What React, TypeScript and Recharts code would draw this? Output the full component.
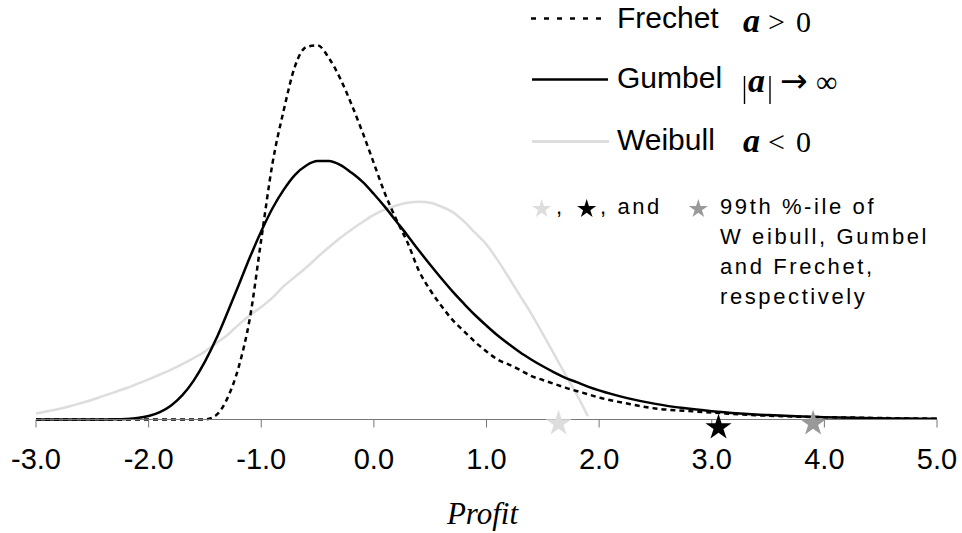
import { ComposedChart, Line, Scatter, XAxis, YAxis } from "recharts";

// profit grid (x) shared by the three densities
const profitGrid = [
  -3.0, -2.9, -2.8, -2.7, -2.6, -2.5, -2.4, -2.3, -2.2, -2.1,
  -2.0, -1.9, -1.8, -1.7, -1.6, -1.5, -1.4, -1.3, -1.2, -1.1,
  -1.0, -0.9, -0.8, -0.7, -0.6, -0.5, -0.4, -0.3, -0.2, -0.1,
  0.0, 0.1, 0.2, 0.3, 0.4, 0.5, 0.6, 0.7, 0.8, 0.9,
  1.0, 1.1, 1.2, 1.3, 1.4, 1.5, 1.6, 1.7, 1.8, 1.9,
  2.0, 2.25, 2.5, 2.75, 3.0, 3.25, 3.5, 3.75, 4.0, 4.25, 4.5, 4.75, 5.0,
];

const frechet = [
  0, 0, 0, 0, 0, 0, 0, 0, 0, 0,
  0, 0, 0, 0, 0, 0, 0.008, 0.039, 0.096, 0.186,
  0.328, 0.467, 0.564, 0.644, 0.679, 0.682, 0.659, 0.622, 0.575, 0.523,
  0.467, 0.411, 0.364, 0.322, 0.271, 0.236, 0.207, 0.181, 0.161, 0.141,
  0.124, 0.109, 0.1, 0.09, 0.079, 0.072, 0.065, 0.058, 0.052, 0.046,
  0.04, 0.029, 0.02, 0.016, 0.0127, 0.0093, 0.0069, 0.0053, 0.0042, 0.0035, 0.0027, 0.002, 0.0015,
];

const gumbel = [
  0, 0, 0, 0, 0, 0, 0.0001, 0.0003, 0.001, 0.0026,
  0.0063, 0.0134, 0.0256, 0.0443, 0.0709, 0.1054, 0.147, 0.195, 0.245, 0.296,
  0.343, 0.385, 0.419, 0.446, 0.463, 0.471, 0.471, 0.464, 0.45, 0.433,
  0.411, 0.387, 0.361, 0.335, 0.308, 0.282, 0.257, 0.233, 0.211, 0.19,
  0.171, 0.153, 0.137, 0.122, 0.109, 0.097, 0.086, 0.076, 0.068, 0.06,
  0.053, 0.039, 0.0285, 0.0208, 0.0152, 0.0111, 0.008, 0.0058, 0.0042, 0.0031, 0.0022, 0.0016, 0.0012,
];

const weibull = [
  0.011, 0.015, 0.019, 0.024, 0.03, 0.036, 0.043, 0.05, 0.057, 0.065,
  0.073, 0.082, 0.091, 0.101, 0.112, 0.124, 0.139, 0.154, 0.173, 0.19,
  0.205, 0.222, 0.243, 0.26, 0.277, 0.296, 0.314, 0.331, 0.346, 0.36,
  0.373, 0.383, 0.39, 0.395, 0.397, 0.395, 0.388, 0.378, 0.361, 0.34,
  0.319, 0.29, 0.258, 0.225, 0.192, 0.156, 0.119, 0.082, 0.046, 0.006,
  null, null, null, null, null, null, null, null, null, null, null, null, null,
];

const profitTicks = [-3, -2, -1, 0, 1, 2, 3, 4, 5];

// 99th percentiles
const quantileNames = ["Weibull", "Gumbel", "Frechet"];
const quantileProfit = [1.64, 3.06, 3.9];

const SANS = "'Liberation Sans', Arial, sans-serif";
const SERIF = "'Liberation Serif', 'Times New Roman', serif";

const starLook: Record<string, { fill: string; drop: number }> = {
  Weibull: { fill: "#dddddd", drop: 4 },
  Gumbel: { fill: "#000000", drop: 8 },
  Frechet: { fill: "#999999", drop: 4 },
};

const toPoints = (vals: (number | null)[]) =>
  profitGrid
    .map((x, i) => ({ x, y: vals[i] }))
    .filter((p) => p.y !== null);

const frechetData = toPoints(frechet);
const gumbelData = toPoints(gumbel);
const weibullData = toPoints(weibull);
const starData = quantileNames.map((name, i) => ({ name, x: quantileProfit[i], y: 0 }));

function starPath(cx: number, cy: number, R: number) {
  const r = R * 0.382;
  let d = "";
  for (let i = 0; i < 10; i++) {
    const rad = i % 2 === 0 ? R : r;
    const a = -Math.PI / 2 + (i * Math.PI) / 5;
    d += (i === 0 ? "M" : "L") + (cx + rad * Math.cos(a)).toFixed(2) + "," + (cy + rad * Math.sin(a)).toFixed(2);
  }
  return d + "Z";
}

const AxisStar = (props: any) => {
  const { cx, cy, payload } = props;
  const look = starLook[payload.name];
  return <path d={starPath(cx, cy + look.drop, 13.7)} fill={look.fill} />;
};

function Legend() {
  const t = { fontFamily: SANS, fontSize: 30, fill: "#000" };
  const m = { fontFamily: SERIF, fontSize: 30, fill: "#000" };
  const alpha = { fontFamily: SERIF, fontSize: 34, fill: "#000", fontWeight: "bold", fontStyle: "italic" };
  const note = { fontFamily: SANS, fontSize: 22, fill: "#000", letterSpacing: 2.6 };
  return (
    <svg width={962} height={533} style={{ position: "absolute", left: 0, top: 0, pointerEvents: "none" }}>
      <line x1={531} y1={18.5} x2={608} y2={18.5} stroke="#000" strokeWidth={2.5} strokeDasharray="5 8" />
      <text x={617} y={28} {...t}>Frechet</text>
      <text x={743} y={32} {...alpha}>a</text>
      <text x={768} y={32} {...m}>&gt;</text>
      <text x={796} y={32} {...m}>0</text>

      <line x1={532} y1={79.5} x2={608} y2={79.5} stroke="#000" strokeWidth={2.5} />
      <text x={617} y={88} {...t}>Gumbel</text>
      <line x1={744.5} y1={76} x2={744.5} y2={104} stroke="#000" strokeWidth={1.4} />
      <text x={748} y={92} {...alpha}>a</text>
      <line x1={770} y1={76} x2={770} y2={104} stroke="#000" strokeWidth={1.4} />
      <text x={780} y={92} fontFamily="'DejaVu Sans', sans-serif" fontSize={33} fill="#000">→</text>
      <text x={816} y={92} {...m}>∞</text>

      <line x1={532} y1={141.5} x2={609} y2={141.5} stroke="#dddddd" strokeWidth={3} />
      <text x={617} y={150} {...t}>Weibull</text>
      <text x={743} y={152} {...alpha}>a</text>
      <text x={768} y={152} {...m}>&lt;</text>
      <text x={796} y={152} {...m}>0</text>

      <path d={starPath(541.7, 209, 10)} fill={starLook.Weibull.fill} />
      <text x={556} y={214} {...note}>,</text>
      <path d={starPath(586.7, 209, 10)} fill={starLook.Gumbel.fill} />
      <text x={600} y={214} {...note}>, and</text>
      <path d={starPath(698.3, 209, 10)} fill={starLook.Frechet.fill} />
      <text x={720} y={214} {...note}>99th %-ile of</text>
      <text x={720} y={244} {...note}>W eibull, Gumbel</text>
      <text x={720} y={274} {...note}>and Frechet,</text>
      <text x={720} y={303.5} {...note}>respectively</text>
    </svg>
  );
}

export default function App() {
  return (
    <div style={{ position: "absolute", left: 0, top: 0, width: 962, height: 533, background: "#fff" }}>
      <ComposedChart width={962} height={533} margin={{ top: 8, right: 25, bottom: 0, left: 36 }}>
        <XAxis
          dataKey="x"
          type="number"
          domain={[-3, 5]}
          ticks={profitTicks}
          interval={0}
          tickFormatter={(v: number) => v.toFixed(1)}
          tickSize={8}
          tickMargin={21}
          height={113.5}
          stroke="#777"
          tick={{ fill: "#000", fontSize: 29, fontFamily: SANS }}
          label={{
            value: "Profit",
            position: "insideBottom",
            offset: 9,
            dx: -4,
            fill: "#000",
            fontSize: 31,
            fontStyle: "italic",
            fontFamily: SERIF,
          }}
        />
        <YAxis type="number" domain={[0, 0.75]} hide width={0} />
        <Line data={weibullData} dataKey="y" type="monotone" stroke="#dddddd" strokeWidth={2.5} dot={false} isAnimationActive={false} />
        <Line data={gumbelData} dataKey="y" type="monotone" stroke="#000" strokeWidth={2.5} dot={false} isAnimationActive={false} />
        <Line data={frechetData} dataKey="y" type="monotone" stroke="#000" strokeWidth={2.5} strokeDasharray="5 4" dot={false} isAnimationActive={false} />
        <Scatter data={starData} dataKey="y" shape={AxisStar} isAnimationActive={false} />
      </ComposedChart>
      <Legend />
    </div>
  );
}
